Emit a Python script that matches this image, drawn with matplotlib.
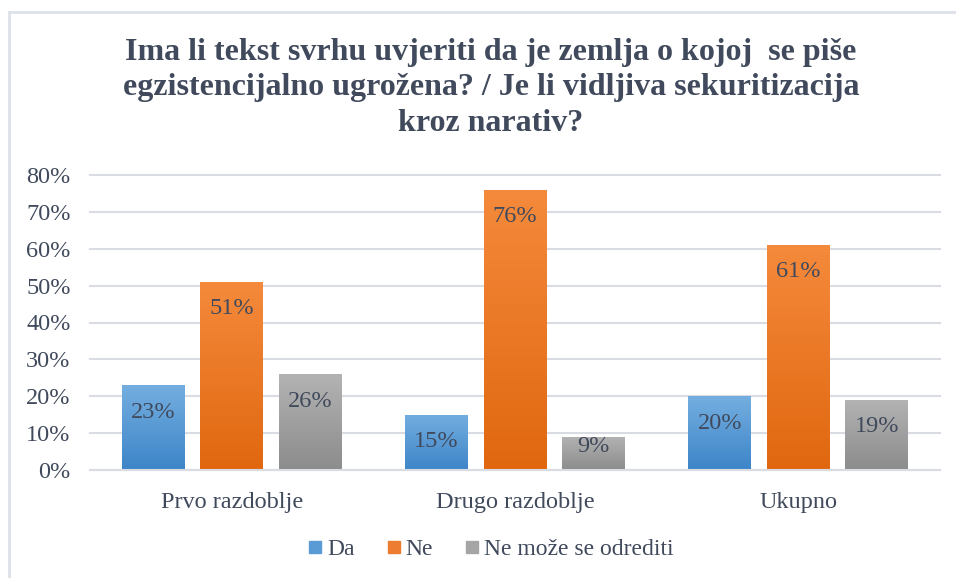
import numpy as np
import matplotlib
matplotlib.use("Agg")
import matplotlib.pyplot as plt
from matplotlib.colors import LinearSegmentedColormap
from matplotlib.lines import Line2D

categories = ["Prvo razdoblje", "Drugo razdoblje", "Ukupno"]
series_names = ["Da", "Ne", "Ne može se odrediti"]
da = [0.23, 0.15, 0.20]
ne = [0.51, 0.76, 0.61]
neodr = [0.26, 0.09, 0.19]
yticks = [0, 0.1, 0.2, 0.3, 0.4, 0.5, 0.6, 0.7, 0.8]
title = ("Ima li tekst svrhu uvjeriti da je zemlja o kojoj  se piše\n"
         "egzistencijalno ugrožena? / Je li vidljiva sekuritizacija\n"
         "kroz narativ?")

series = [da, ne, neodr]
grads = [("#74aee0", "#3d85c8"), ("#f58a3c", "#e0670f"), ("#b3b3b3", "#8c8c8c")]
solid = ["#5b9bd5", "#ed7d31", "#a5a5a5"]
txtc = "#404a5c"
font = "Liberation Serif"
fs = 17.5

fig = plt.figure(figsize=(9.56, 5.78), dpi=100)
ax = fig.add_axes([90/956, 108/578, 850/956, 295/578])
x = np.arange(len(categories))
width = 0.222
step = 0.277

for i, (vals, (ctop, cbot)) in enumerate(zip(series, grads)):
    cmap = LinearSegmentedColormap.from_list("g%d" % i, [cbot, ctop])
    bars = ax.bar(x + (i - 1) * step, vals, width, color="none", edgecolor="none", zorder=2)
    for b, v in zip(bars, vals):
        x0, w = b.get_x(), b.get_width()
        grad = np.linspace(0, 1, 256).reshape(-1, 1)
        im = ax.imshow(grad, cmap=cmap, origin="lower", aspect="auto",
                       extent=[x0, x0 + w, 0, v], zorder=2)
        im.set_clip_path(b)
        off = 0.073 if v > 0.12 else 0.025
        ax.text(x0 + w / 2, v - off, "%d%%" % round(v * 100), ha="center", va="center",
                fontsize=fs, color=txtc, family=font, zorder=3)

ax.set_xlim(-0.5, 2.5)
ax.set_ylim(0, 0.8)
ax.set_yticks(yticks)
ax.set_yticklabels(["%d%%" % round(t * 100) for t in yticks])
ax.set_xticks(x)
ax.set_xticklabels(categories)
ax.grid(axis="y", color="#d9dde3", linewidth=1.5, zorder=0)
for g in ax.get_ygridlines():
    g.set_clip_on(False)
ax.set_axisbelow(True)
for s in ["top", "right", "left"]:
    ax.spines[s].set_visible(False)
ax.spines["bottom"].set_color("#d9dde3")
ax.spines["bottom"].set_linewidth(1.5)
ax.tick_params(axis="both", length=0, labelsize=fs, labelcolor=txtc)
ax.tick_params(axis="y", pad=14)
ax.tick_params(axis="x", pad=16)
for lab in ax.get_xticklabels() + ax.get_yticklabels():
    lab.set_family(font)

handles = [Line2D([], [], marker="s", linestyle="none", markersize=8,
                  markerfacecolor=c, markeredgecolor=c) for c in solid]
leg = fig.legend(handles, series_names, loc="center", bbox_to_anchor=(489/956, 1 - 549/578),
                 ncol=3, frameon=False, prop={"family": font, "size": 17},
                 handletextpad=0.05, columnspacing=1.2, handlelength=0.9)
for t in leg.get_texts():
    t.set_color(txtc)

fig.text(491/956, 1 - 88/578, title, ha="center", va="center", fontsize=23,
         fontweight="bold", family=font, color=txtc, linespacing=1.3)

# chart border (top and left edges visible)
fig.add_artist(Line2D([9/956, 9/956], [0, 1 - 12/578], transform=fig.transFigure,
                      color="#dde1e8", linewidth=2))
fig.add_artist(Line2D([9/956, 1], [1 - 12/578, 1 - 12/578], transform=fig.transFigure,
                      color="#dde1e8", linewidth=2))

fig.savefig("out.png", dpi=100, facecolor="white")
